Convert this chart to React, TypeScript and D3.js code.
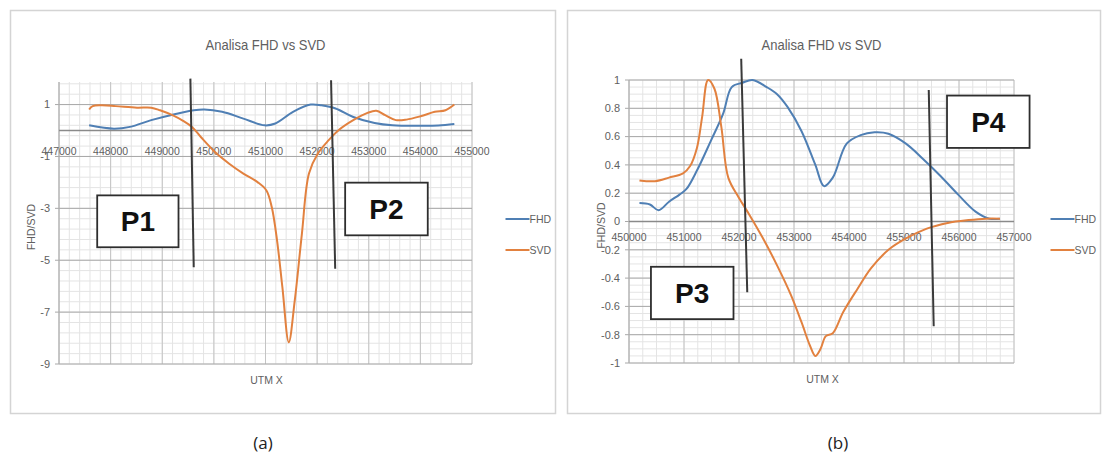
import React from "react";
import { scaleLinear, line, curveCatmullRom, range } from "d3";

// panel (a): 447000 - 455000
const xTicksA = [447000, 448000, 449000, 450000, 451000, 452000, 453000, 454000, 455000];
const yTicksA = [1, -1, -3, -5, -7, -9];
const fhdAX = [447584, 448065, 448374, 448786, 449198, 449610, 449816, 450160, 450571, 450983, 451190, 451533, 451876, 452082, 452357, 452700, 453113, 453456, 454005, 454349, 454658];
const fhdA = [0.2, 0.07, 0.14, 0.4, 0.61, 0.78, 0.81, 0.72, 0.46, 0.2, 0.27, 0.72, 1.0, 0.97, 0.85, 0.52, 0.29, 0.2, 0.18, 0.19, 0.25];
const svdAX = [447584, 447652, 447824, 448099, 448511, 448786, 448957, 449198, 449404, 449575, 449747, 450022, 450297, 450571, 450846, 451018, 451121, 451224, 451327, 451451, 451567, 451705, 451842, 452014, 452220, 452426, 452700, 452975, 453147, 453319, 453525, 453731, 454005, 454280, 454486, 454658];
const svdA = [0.81, 0.94, 0.97, 0.94, 0.88, 0.88, 0.78, 0.59, 0.37, 0.14, -0.25, -0.83, -1.28, -1.66, -1.99, -2.31, -2.95, -4.24, -6.04, -8.16, -6.55, -3.98, -1.66, -0.89, -0.38, 0.03, 0.4, 0.68, 0.76, 0.59, 0.4, 0.42, 0.55, 0.72, 0.78, 1.0];

// panel (b): 450000 - 457000
const xTicksB = [450000, 451000, 452000, 453000, 454000, 455000, 456000, 457000];
const yTicksB = [1, 0.8, 0.6, 0.4, 0.2, 0, -0.2, -0.4, -0.6, -0.8, -1];
const fhdBX = [450190, 450380, 450538, 450728, 450918, 451045, 451235, 451488, 451710, 451868, 452058, 452248, 452502, 452692, 452882, 453135, 453388, 453546, 453705, 453958, 454211, 454465, 454718, 455035, 455351, 455668, 455985, 456301, 456555, 456745];
const fhdB = [0.13, 0.12, 0.08, 0.14, 0.19, 0.23, 0.36, 0.57, 0.76, 0.95, 0.98, 1.0, 0.95, 0.9, 0.81, 0.64, 0.4, 0.25, 0.31, 0.55, 0.61, 0.63, 0.62, 0.55, 0.44, 0.32, 0.19, 0.07, 0.02, 0.02];
const svdBX = [450190, 450475, 450728, 450982, 451108, 451235, 451330, 451438, 451552, 451678, 451805, 451995, 452185, 452438, 452692, 452945, 453135, 453293, 453388, 453483, 453578, 453705, 453895, 454148, 454402, 454718, 455035, 455415, 455795, 456175, 456491, 456745];
const svdB = [0.29, 0.285, 0.31, 0.34, 0.39, 0.52, 0.74, 1.0, 0.94, 0.67, 0.31, 0.17, 0.05, -0.12, -0.31, -0.52, -0.71, -0.88, -0.95, -0.9, -0.81, -0.79, -0.64, -0.48, -0.33, -0.2, -0.12, -0.05, -0.01, 0.01, 0.02, 0.02];

// section markers and labels (data units)
const markersA = [[449545, 2.0, 449610, -5.27], [452270, 1.94, 452350, -5.33]];
const boxesA = [{ name: "P1", x0: 447740, x1: 449315, y0: -2.5, y1: -4.5 }, { name: "P2", x0: 452543, x1: 454143, y0: -2.01, y1: -4.04 }];
const markersB = [[452040, 1.15, 452150, -0.5], [455450, 0.93, 455540, -0.74]];
const boxesB = [{ name: "P3", x0: 450399, x1: 451900, y0: -0.32, y1: -0.69 }, { name: "P4", x0: 455782, x1: 457283, y0: 0.89, y1: 0.52 }];

const FHD_COLOR = "#4f7fb4";
const SVD_COLOR = "#e2813f";
const TXT = "#606060";
const NARROW = "'Liberation Sans Narrow', 'Liberation Sans', sans-serif";

function Panel({ frame, xDom, xRange, yDom, yRange, xTicks, yTicks, xMinor, yMinor, labelGap, fhdX, fhd, svdX, svd, markers, boxes, caption, fmt }) {
  const x = scaleLinear().domain(xDom).range(xRange);
  const y = scaleLinear().domain(yDom).range(yRange);
  const path = line().x((d) => x(d[0])).y((d) => y(d[1])).curve(curveCatmullRom.alpha(0.5));
  const fhdPts = fhdX.map((v, i) => [v, fhd[i]]);
  const svdPts = svdX.map((v, i) => [v, svd[i]]);
  const [left, right] = xRange;
  const [bottom, top] = yRange;
  const cx = (left + right) / 2;
  const vMinor = range(xDom[0], xDom[1] + 1, xMinor);
  const hMinor = range(yDom[0], yDom[1] + 1e-6, yMinor);

  return (
    <g>
      <rect x={frame.x} y={frame.y} width={frame.w} height={frame.h} fill="#fff" stroke="#d4d4d4" strokeWidth={1.5} />
      <text x={cx} y={50} textAnchor="middle" fontFamily={NARROW} fontSize={15} fill={TXT} textLength={120} lengthAdjust="spacingAndGlyphs">
        Analisa FHD vs SVD
      </text>

      {/* minor grid */}
      {vMinor.map((v) => (
        <line key={"vm" + v} x1={x(v)} x2={x(v)} y1={top} y2={bottom} stroke="#e4e4e4" strokeWidth={1} />
      ))}
      {hMinor.map((v) => (
        <line key={"hm" + v} x1={left} x2={right} y1={y(v)} y2={y(v)} stroke="#e4e4e4" strokeWidth={1} />
      ))}
      {/* major grid */}
      {xTicks.map((v) => (
        <line key={"vg" + v} x1={x(v)} x2={x(v)} y1={top} y2={bottom} stroke="#c4c4c4" strokeWidth={1} />
      ))}
      {yTicks.map((v) => (
        <line key={"hg" + v} x1={left - 4} x2={right} y1={y(v)} y2={y(v)} stroke="#a8a8a8" strokeWidth={1} />
      ))}
      <line x1={left} x2={left} y1={top} y2={bottom} stroke="#b0b0b0" />
      <line x1={left} x2={right} y1={y(0)} y2={y(0)} stroke="#8a8a8a" strokeWidth={1.3} />

      {yTicks.map((v) => (
        <text key={"yl" + v} x={left - 9} y={y(v)} dy="0.35em" textAnchor="end" fontFamily={NARROW} fontSize={11} fill={TXT}>
          {fmt(v)}
        </text>
      ))}
      {xTicks.map((v) => (
        <text key={"xl" + v} x={x(v)} y={y(0) + labelGap} dy="0.35em" textAnchor="middle" fontFamily={NARROW} fontSize={10.5} fill={TXT}>
          {v}
        </text>
      ))}

      <path d={path(fhdPts)} fill="none" stroke={FHD_COLOR} strokeWidth={2} />
      <path d={path(svdPts)} fill="none" stroke={SVD_COLOR} strokeWidth={2} />

      {markers.map((m, i) => (
        <line key={"mk" + i} x1={x(m[0])} y1={y(m[1])} x2={x(m[2])} y2={y(m[3])} stroke="#3a3a3a" strokeWidth={2} />
      ))}
      {boxes.map((b) => (
        <g key={b.name}>
          <rect x={x(b.x0)} y={y(b.y0)} width={x(b.x1) - x(b.x0)} height={y(b.y1) - y(b.y0)} fill="#fff" stroke="#2e2e2e" strokeWidth={1.8} />
          <text x={(x(b.x0) + x(b.x1)) / 2} y={(y(b.y0) + y(b.y1)) / 2} dy="0.36em" textAnchor="middle" fontFamily="'Liberation Sans', Arial, sans-serif" fontWeight="bold" fontSize={28} fill="#111">
            {b.name}
          </text>
        </g>
      ))}

      <text x={left - 24} y={0} transform={`translate(0, ${(top + bottom) / 2 + 4}) rotate(-90, ${left - 24}, 0)`} textAnchor="middle" fontFamily={NARROW} fontSize={10.5} fill={TXT}>
        FHD/SVD
      </text>
      <text x={cx + 1} y={bottom + 16} dy="0.35em" textAnchor="middle" fontFamily={NARROW} fontSize={10.5} fill={TXT}>
        UTM X
      </text>

      {/* legend */}
      <line x1={frame.x + frame.w - 50} x2={frame.x + frame.w - 26} y1={219} y2={219} stroke={FHD_COLOR} strokeWidth={2} />
      <text x={frame.x + frame.w - 26} y={219} dy="0.35em" fontFamily={NARROW} fontSize={10.5} fill={TXT}>FHD</text>
      <line x1={frame.x + frame.w - 50} x2={frame.x + frame.w - 26} y1={250} y2={250} stroke={SVD_COLOR} strokeWidth={2} />
      <text x={frame.x + frame.w - 26} y={250} dy="0.35em" fontFamily={NARROW} fontSize={10.5} fill={TXT}>SVD</text>

      <text x={caption} y={443} dy="0.35em" textAnchor="middle" fontFamily="'Open Sans', sans-serif" fontSize={17} fill="#222">
        {frame.x < 100 ? "(a)" : "(b)"}
      </text>
    </g>
  );
}

export default function App() {
  return (
    <svg width={1105} height={455} style={{ position: "absolute", left: 0, top: 0, background: "#fff" }}>
      <Panel
        frame={{ x: 10.5, y: 10.5, w: 545, h: 403 }}
        xDom={[447000, 455000]}
        xRange={[59, 472]}
        yDom={[-9, 1.87]}
        yRange={[364, 82]}
        xTicks={xTicksA}
        yTicks={yTicksA}
        xMinor={200}
        yMinor={0.4}
        labelGap={21}
        fhdX={fhdAX}
        fhd={fhdA}
        svdX={svdAX}
        svd={svdA}
        markers={markersA}
        boxes={boxesA}
        caption={263}
        fmt={(v) => String(v)}
      />
      <Panel
        frame={{ x: 567.5, y: 10.5, w: 533, h: 403 }}
        xDom={[450000, 457000]}
        xRange={[629, 1014]}
        yDom={[-1, 1]}
        yRange={[363, 80]}
        xTicks={xTicksB}
        yTicks={yTicksB}
        xMinor={250}
        yMinor={0.05}
        labelGap={16}
        fhdX={fhdBX}
        fhd={fhdB}
        svdX={svdBX}
        svd={svdB}
        markers={markersB}
        boxes={boxesB}
        caption={838}
        fmt={(v) => String(Math.round(v * 10) / 10)}
      />
    </svg>
  );
}
